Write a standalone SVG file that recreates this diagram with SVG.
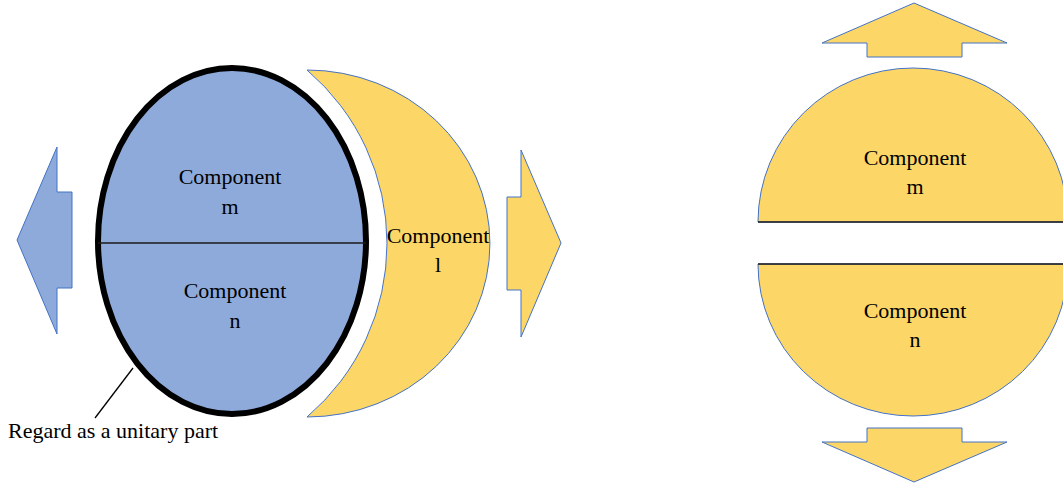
<svg xmlns="http://www.w3.org/2000/svg" width="1063" height="488" viewBox="0 0 1063 488">
  <style>
    .blue { fill: #8eaadb; stroke: #4472c4; stroke-width: 1; }
    .gold { fill: #fcd768; stroke: #4472c4; stroke-width: 1; }
    .lbl { font-family: "Liberation Serif", "Times New Roman", serif; font-size: 22px; fill: #000; text-anchor: middle; }
    .note { font-family: "Liberation Serif", "Times New Roman", serif; font-size: 22px; fill: #000; }
    .rule { stroke: #1a1a1a; stroke-width: 1.3; fill: none; }
  </style>

  <!-- arrows showing the direction of separation -->
  <g id="connectors">
    <polygon id="arrow-left" class="blue" points="17,240 57,147 57,192 72,192 72,288 57,288 57,334"/>
    <polygon id="arrow-right" class="gold" points="561,243 521,150 521,197 507,197 507,290 521,290 521,337"/>
    <polygon id="arrow-up" class="gold" points="914,3 1007,43 962,43 962,57 867,57 867,43 822,43"/>
    <polygon id="arrow-down" class="gold" points="914,482 1007,442 962,442 962,428 867,428 867,442 822,442"/>
    <line id="leader" x1="133" y1="368" x2="95" y2="418" stroke="#000" stroke-width="1.3"/>
  </g>

  <!-- combined part m + n drawn as a single body -->
  <g id="unitary-part">
    <ellipse cx="232" cy="241" rx="134" ry="173" fill="#8eaadb" stroke="#000" stroke-width="6"/>
    <line class="rule" x1="98" y1="243" x2="366" y2="243"/>
    <text class="lbl" x="230" y="184">Component</text>
    <text class="lbl" x="230" y="214">m</text>
    <text class="lbl" x="235" y="298">Component</text>
    <text class="lbl" x="235" y="328">n</text>
  </g>

  <!-- crescent-shaped component l -->
  <g id="component-l">
    <path class="gold" d="M307,70 A183,173.5 0 0 1 307,417 A228,228 0 0 0 387,243.5 A228,228 0 0 0 307,70 Z"/>
    <text class="lbl" x="438" y="243">Component</text>
    <text class="lbl" x="438" y="272">l</text>
  </g>

  <!-- upper half: component m -->
  <g id="component-m">
    <path class="gold" d="M758,222 A155,154 0 0 1 1068,222 Z"/>
    <line class="rule" x1="758" y1="222" x2="1063" y2="222"/>
    <text class="lbl" x="915" y="165">Component</text>
    <text class="lbl" x="915" y="194">m</text>
  </g>

  <!-- lower half: component n -->
  <g id="component-n">
    <path class="gold" d="M758,264 A155,152 0 0 0 1068,264 Z"/>
    <line class="rule" x1="758" y1="264" x2="1063" y2="264"/>
    <text class="lbl" x="915" y="318">Component</text>
    <text class="lbl" x="915" y="347">n</text>
  </g>

  <!-- annotation -->
  <g id="note">
    <text class="note" x="8" y="438">Regard as a unitary part</text>
  </g>
</svg>
